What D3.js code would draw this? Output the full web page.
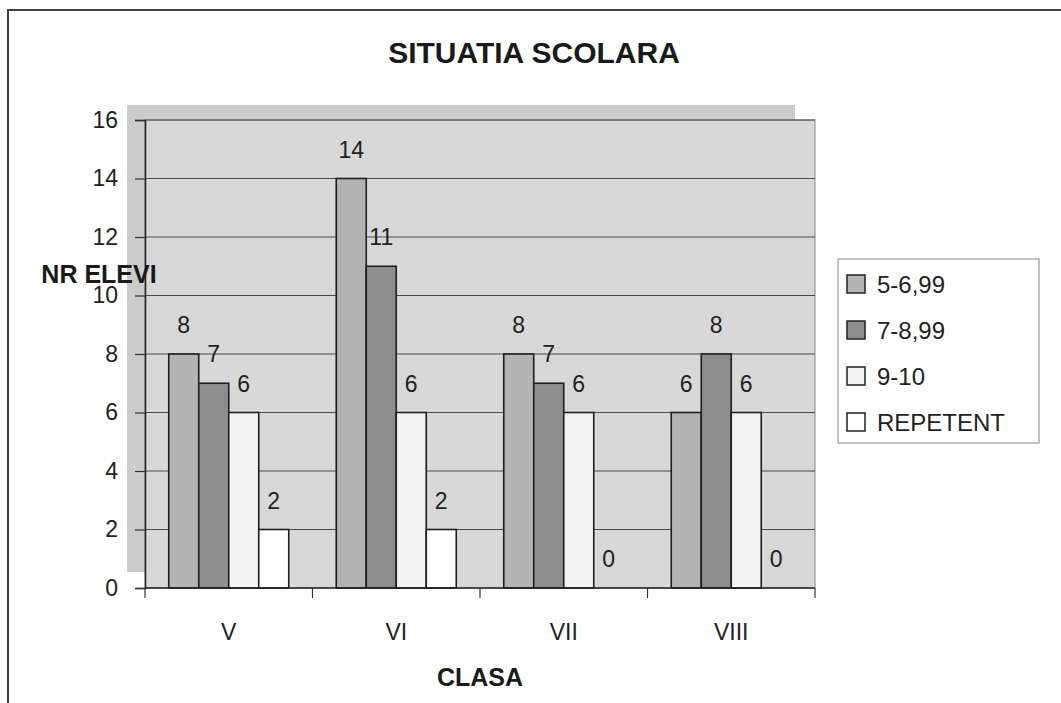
<!DOCTYPE html>
<html>
<head>
<meta charset="utf-8">
<script src="https://cdn.jsdelivr.net/npm/d3@7/dist/d3.min.js"></script>
<style>
  html, body { margin: 0; padding: 0; background: #fff; }
  svg { display: block; font-family: "Liberation Sans", Arial, sans-serif; }
</style>
</head>
<body>
<svg id="chart" width="1061" height="703"></svg>
<script>
const categories = ["V", "VI", "VII", "VIII"];
const seriesNames = ["5-6,99", "7-8,99", "9-10", "REPETENT"];
const series1 = [8, 14, 8, 6];   // 5-6,99
const series2 = [7, 11, 7, 8];   // 7-8,99
const series3 = [6, 6, 6, 6];    // 9-10
const series4 = [2, 2, 0, 0];    // REPETENT
const yTicks = [0, 2, 4, 6, 8, 10, 12, 14, 16];
const titleText = "SITUATIA SCOLARA";
const yTitle = "NR ELEVI";
const xTitle = "CLASA";

(function () {
const seriesValues = [series1, series2, series3, series4];
const colors = ["#b3b3b3", "#8d8d8d", "#f3f3f3", "#ffffff"];

const svg = d3.select("#chart");

// outer frame (left/top visible)
svg.append("rect").attr("x", 8).attr("y", 10).attr("width", 1100).attr("height", 800)
  .attr("fill", "#fff").attr("stroke", "#444").attr("stroke-width", 2);

const pL = 145, pR = 815, pT = 120, pB = 588;

const x0 = d3.scaleBand().domain(categories).range([pL, pR]).padding(0);
const x1 = d3.scaleBand().domain(seriesNames).range([23.75, 143.75]).padding(0);
const y = d3.scaleLinear().domain([0, 16]).range([pB, pT]);

// shadow
svg.append("rect").attr("x", 127).attr("y", 105).attr("width", 795 - 127).attr("height", 572 - 105)
  .attr("fill", "#cbcbcb");
// plot area
svg.append("rect").attr("x", pL).attr("y", pT).attr("width", pR - pL).attr("height", pB - pT)
  .attr("fill", "#d8d8d8").attr("stroke", "#8a8a8a").attr("stroke-width", 1);

// gridlines
svg.append("g").selectAll("line").data(yTicks.filter(d => d > 0)).join("line")
  .attr("x1", pL).attr("x2", pR)
  .attr("y1", d => y(d)).attr("y2", d => y(d))
  .attr("stroke", "#4a4a4a").attr("stroke-width", 1.2);

// y axis
const yAxis = svg.append("g").attr("transform", `translate(${pL},0)`)
  .call(d3.axisLeft(y).tickValues(yTicks).tickSize(10).tickPadding(17).tickFormat(d3.format("d")));
yAxis.select(".domain").attr("stroke", "#222").attr("stroke-width", 1.5);
yAxis.selectAll(".tick line").attr("stroke", "#333").attr("stroke-width", 1.2);
yAxis.selectAll("text").attr("font-size", 23).attr("fill", "#222")
  .attr("font-family", "Liberation Sans, Arial, sans-serif");

// bars
const groups = svg.append("g").selectAll("g").data(categories).join("g")
  .attr("transform", d => `translate(${x0(d)},0)`);
groups.selectAll("rect").data((c, i) => seriesNames.map((s, j) => ({ s, j, v: seriesValues[j][i] })))
  .join("rect")
  .attr("x", d => x1(d.s)).attr("width", x1.bandwidth())
  .attr("y", d => y(d.v)).attr("height", d => y(0) - y(d.v))
  .attr("fill", d => colors[d.j]).attr("stroke", "#1e1e1e").attr("stroke-width", 1.6);
groups.selectAll("text").data((c, i) => seriesNames.map((s, j) => ({ s, j, v: seriesValues[j][i] })))
  .join("text")
  .attr("x", d => x1(d.s) + x1.bandwidth() / 2).attr("y", d => y(d.v) - 21)
  .attr("text-anchor", "middle").attr("font-size", 23).attr("fill", "#222")
  .text(d => d.v);

// x axis
svg.append("line").attr("x1", pL).attr("x2", pR).attr("y1", pB).attr("y2", pB)
  .attr("stroke", "#222").attr("stroke-width", 1.5);
const boundaries = categories.map(c => x0(c)).concat([pR]);
svg.append("g").selectAll("line").data(boundaries).join("line")
  .attr("x1", d => d).attr("x2", d => d).attr("y1", pB).attr("y2", pB + 10)
  .attr("stroke", "#333").attr("stroke-width", 1.2);
const xAxis = svg.append("g").attr("transform", `translate(0,${pB})`)
  .call(d3.axisBottom(x0).tickSize(0).tickPadding(36));
xAxis.select(".domain").remove();
xAxis.selectAll("text").attr("font-size", 23).attr("fill", "#222")
  .attr("font-family", "Liberation Sans, Arial, sans-serif");

// titles
svg.append("text").attr("x", 534).attr("y", 63).attr("text-anchor", "middle")
  .attr("font-size", 30).attr("font-weight", "bold").attr("fill", "#1a1a1a").text(titleText);
svg.append("text").attr("x", 99).attr("y", 283).attr("text-anchor", "middle")
  .attr("font-size", 25).attr("font-weight", "bold").attr("fill", "#1a1a1a").text(yTitle);
svg.append("text").attr("x", 480).attr("y", 686).attr("text-anchor", "middle")
  .attr("font-size", 25).attr("font-weight", "bold").attr("fill", "#1a1a1a").text(xTitle);

// legend
svg.append("rect").attr("x", 838).attr("y", 259).attr("width", 201).attr("height", 184)
  .attr("fill", "#fff").attr("stroke", "#9a9a9a").attr("stroke-width", 1.2);
const legendY = [284, 330, 376, 422];
const lg = svg.append("g").selectAll("g").data(seriesNames).join("g")
  .attr("transform", (d, i) => `translate(847,${legendY[i]})`);
lg.append("rect").attr("x", 0).attr("y", -9).attr("width", 18).attr("height", 18)
  .attr("fill", (d, i) => colors[i]).attr("stroke", "#222").attr("stroke-width", 1.5);
lg.append("text").attr("x", 30).attr("y", 8.5).attr("font-size", 24).attr("fill", "#222").text(d => d);
})();
</script>
</body>
</html>
